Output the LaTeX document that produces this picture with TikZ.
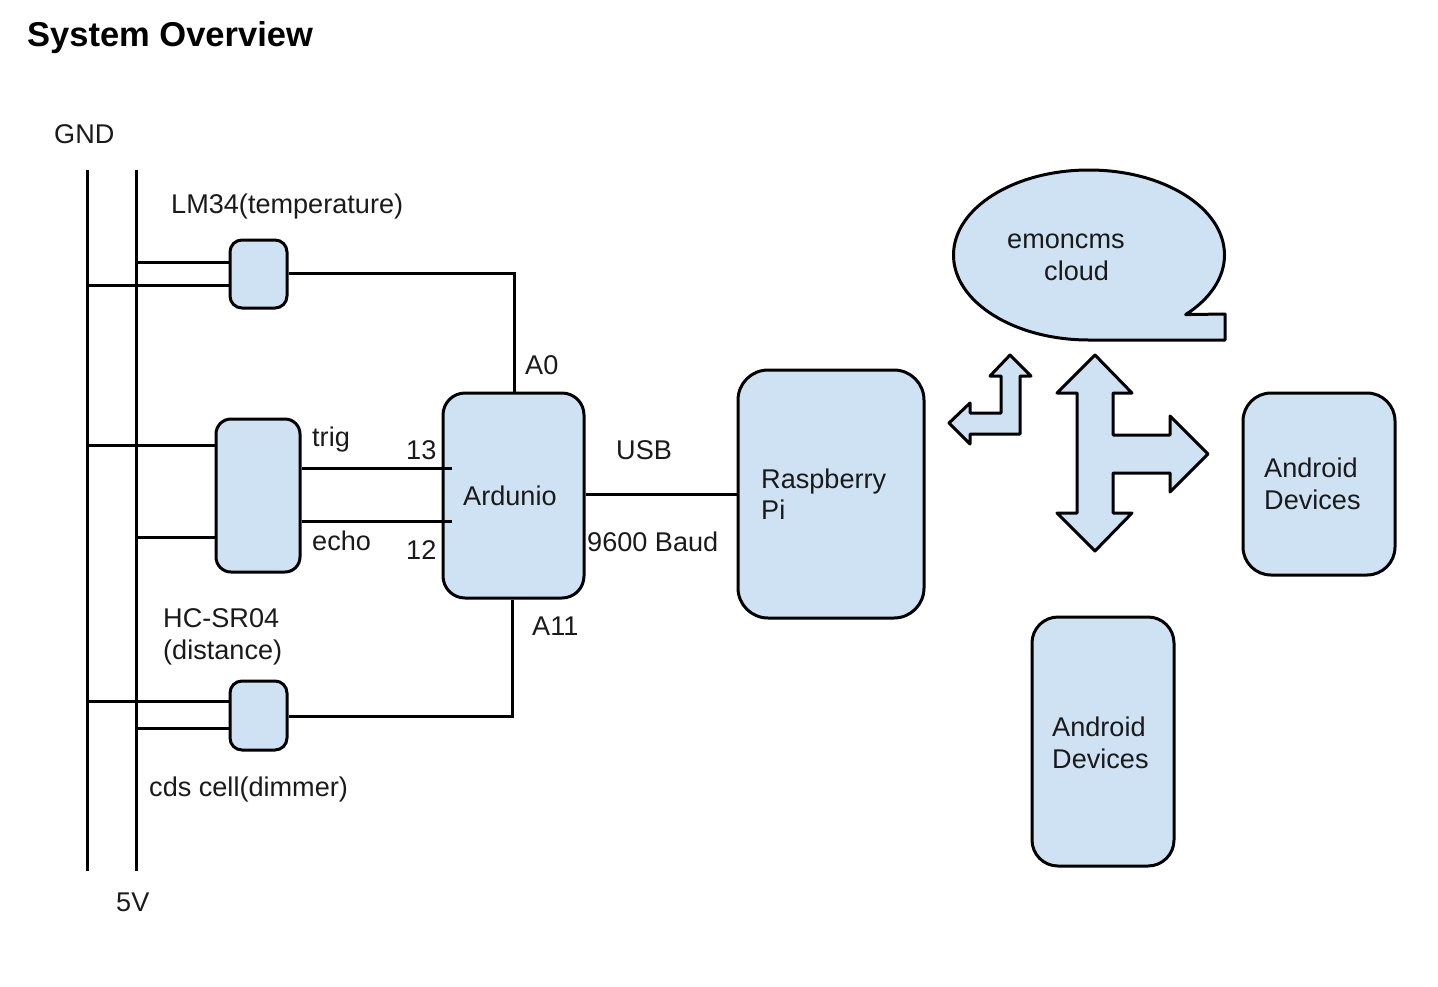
\documentclass[tikz,border=0pt]{standalone}
\usepackage{fontspec}
\setmainfont{Liberation Sans}
\definecolor{boxblue}{HTML}{CFE2F3}
\definecolor{inkgray}{HTML}{1A1A1A}
\tikzset{
    wire/.style={black, line width=3pt},
    part/.style={draw=black, line width=3pt, fill=boxblue, rounded corners=#1, inner sep=0pt},
    part/.default=12pt,
    shape line/.style={draw=black, line width=3pt, fill=boxblue, line join=round},
    lbl/.style={anchor=base west, inner sep=0pt, text=inkgray, align=left, font=\fontsize{27.1}{32}\selectfont}
}
\begin{document}
\begin{tikzpicture}[x=1pt, y=-1pt]
    \useasboundingbox (0, 0) rectangle (1438, 986);

    % boxes
    \node[part, minimum width=57pt, minimum height=68pt] (lm) at (258.5, 274) {};
    \node[part=15pt, minimum width=84pt, minimum height=153pt] (hc) at (258, 495.5) {};
    \node[part, minimum width=57pt, minimum height=69pt] (cds) at (258.5, 715.5) {};
    \node[part=22pt, minimum width=141pt, minimum height=205pt] (ard) at (513.5, 495.5) {};
    \node[part=30pt, minimum width=186pt, minimum height=248pt] (pi) at (831, 494) {};
    \node[part=28pt, minimum width=152pt, minimum height=182pt] (androidA) at (1319, 484) {};
    \node[part=26pt, minimum width=142pt, minimum height=249pt] (androidB) at (1103, 741.5) {};

    % rails
    \coordinate (gndtop) at (87, 170);
    \coordinate (gndbot) at (87, 871);
    \coordinate (vcctop) at (136.5, 170);
    \coordinate (vccbot) at (136.5, 871);
    \draw[wire] (gndtop) -- (gndbot);
    \draw[wire] (vcctop) -- (vccbot);

    % LM34
    \coordinate (lmvcc) at (136.5, 262);
    \coordinate (lmgnd) at (87, 285);
    \coordinate (lmout) at (514, 273.5);
    \draw[wire] (lmvcc) -- (lmvcc -| lm.west);
    \draw[wire] (lmgnd) -- (lmgnd -| lm.west);
    \draw[wire] (lmout -| lm.east) -- (lmout) -- (lmout |- ard.north);

    % HC-SR04
    \coordinate (hcgnd) at (87, 445);
    \coordinate (hcvcc) at (136.5, 537);
    \coordinate (trigend) at (452, 468);
    \coordinate (echoend) at (452, 521);
    \draw[wire] (hcgnd) -- (hcgnd -| hc.west);
    \draw[wire] (hcvcc) -- (hcvcc -| hc.west);
    \draw[wire] (trigend -| hc.east) -- (trigend);
    \draw[wire] (echoend -| hc.east) -- (echoend);

    % cds cell
    \coordinate (cdsgnd) at (87, 701);
    \coordinate (cdsvcc) at (136.5, 728);
    \coordinate (cdsout) at (512, 716);
    \draw[wire] (cdsgnd) -- (cdsgnd -| cds.west);
    \draw[wire] (cdsvcc) -- (cdsvcc -| cds.west);
    \draw[wire] (cdsout -| cds.east) -- (cdsout) -- (cdsout |- ard.south);

    % usb
    \draw[wire] (ard.east |- pi.west) -- (pi.west);

    % cloud
    \draw[shape line] (1089, 340) arc[start angle=270, end angle=-44.5, x radius=135.5pt, y radius=85pt]
        -- (1225, 314) -- (1225, 340) -- cycle;

    % arrows
    \draw[shape line] (1010, 355) -- (1031, 376) -- (1020, 376) -- (1020, 434) -- (970, 434) -- (970, 444)
        -- (949, 423) -- (970, 403) -- (970, 413) -- (1001, 413) -- (1001, 376) -- (990, 376) -- cycle;
    \draw[shape line] (1095, 355) -- (1132, 393) -- (1113, 393) -- (1113, 435) -- (1170, 435) -- (1170, 416)
        -- (1208, 454) -- (1170, 492) -- (1170, 473) -- (1113, 473) -- (1113, 513) -- (1132, 513)
        -- (1095, 551) -- (1057, 513) -- (1077, 513) -- (1077, 393) -- (1057, 393) -- cycle;

    % labels
    \node[lbl, text=black, font=\fontsize{34.5}{40}\selectfont\bfseries] (title) at (27, 46) {System Overview};
    \node[lbl] (gndlbl) at (54, 143) {GND};
    \node[lbl] (vcclbl) at (116, 911) {5V};
    \node[lbl] (lmlbl) at (171, 213) {LM34(temperature)};
    \node[lbl] (a0) at (525, 374) {A0};
    \node[lbl] (trig) at (312, 446) {trig};
    \node[lbl] (pin13) at (406, 459) {13};
    \node[lbl] (ardlbl) at (463, 505) {Ardunio};
    \node[lbl] (usb) at (616, 459) {USB};
    \node[lbl] (baud) at (587, 551) {9600 Baud};
    \node[lbl] (echo) at (312, 550) {echo};
    \node[lbl] (pin12) at (406, 559) {12};
    \node[lbl] (a11) at (532, 635) {A11};
    \node[lbl] (hclblA) at (163, 627) {HC-SR04};
    \node[lbl] (hclblB) at (163, 659) {(distance)};
    \node[lbl] (cdslbl) at (149, 796) {cds cell(dimmer)};
    \node[lbl] (pilblA) at (761, 488) {Raspberry};
    \node[lbl] (pilblB) at (761, 519) {Pi};
    \node[lbl] (emon) at (1007, 248) {emoncms};
    \node[lbl] (cloudlbl) at (1044, 280) {cloud};
    \node[lbl] (andAa) at (1264, 477) {Android};
    \node[lbl] (andAb) at (1264, 509) {Devices};
    \node[lbl] (andBa) at (1052, 736) {Android};
    \node[lbl] (andBb) at (1052, 768) {Devices};
\end{tikzpicture}
\end{document}
